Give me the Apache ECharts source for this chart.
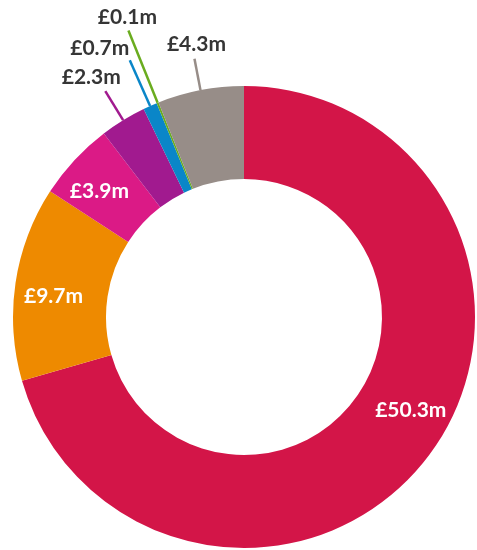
<!DOCTYPE html>
<html>
<head>
<meta charset="utf-8">
<script src="https://cdn.jsdelivr.net/npm/echarts@6/dist/echarts.min.js"></script>
<style>
  html, body { margin: 0; padding: 0; background: #ffffff; }
  #chart { width: 477px; height: 550px; }
</style>
</head>
<body>
<div id="chart"></div>
<script>
// Funding breakdown, £ millions, clockwise from 12 o'clock
const categories = ['Category A', 'Category B', 'Category C', 'Category D', 'Category E', 'Category F', 'Category G'];
const values = [50.3, 9.7, 3.9, 2.3, 0.7, 0.1, 4.3];
const colors = ['#D31548', '#EE8A00', '#DB1A86', '#A11A8F', '#0A86C8', '#6AAC1F', '#978D88'];

// Which slices carry their label inside the ring
const insideLabel = [true, true, true, false, false, false, false];
// Leader-line lengths for the outside labels
const leaderLength = [0, 0, 0, 34, 50, 78, 32];
// Label nudges (inside: shift from sector centre; outside: offset from leader end)
const labelNudge = {
  0: [17, -20], 1: [-5, 7], 2: [-7, 2],
  3: [-14, -14], 4: [-30, -12], 5: [-1, -13], 6: [2, -14]
};

const pieData = values.map((v, i) => ({
  name: categories[i],
  value: v,
  itemStyle: { color: colors[i] },
  label: insideLabel[i]
    ? { position: 'inside', color: '#ffffff' }
    : { position: 'outside', color: '#353535' },
  labelLine: insideLabel[i]
    ? { show: false }
    : { show: true, length: leaderLength[i], length2: 0, lineStyle: { color: colors[i], width: 2.5 } }
}));

const chart = echarts.init(document.getElementById('chart'), null, { renderer: 'canvas' });
chart.setOption({
  animation: false,
  series: [{
    type: 'pie',
    center: [244, 317],
    radius: [138, 231],
    startAngle: 90,
    clockwise: true,
    avoidLabelOverlap: false,
    itemStyle: { borderWidth: 0 },
    label: {
      show: true,
      fontFamily: 'Lato',
      fontWeight: 700,
      fontSize: 21,
      formatter: p => '£' + p.value.toFixed(1) + 'm'
    },
    emphasis: { disabled: true },
    labelLayout: function (params) {
      const i = params.dataIndex;
      const n = labelNudge[i] || [0, 0];
      if (insideLabel[i]) {
        return { dx: n[0], dy: n[1] };
      }
      const pts = params.labelLinePoints;
      if (!pts) return {};
      const end = pts[1];
      return {
        x: end[0] + n[0],
        y: end[1] + n[1],
        align: 'center',
        verticalAlign: 'middle',
        labelLinePoints: [pts[0], pts[1]]
      };
    },
    data: pieData
  }]
});
</script>
</body>
</html>
